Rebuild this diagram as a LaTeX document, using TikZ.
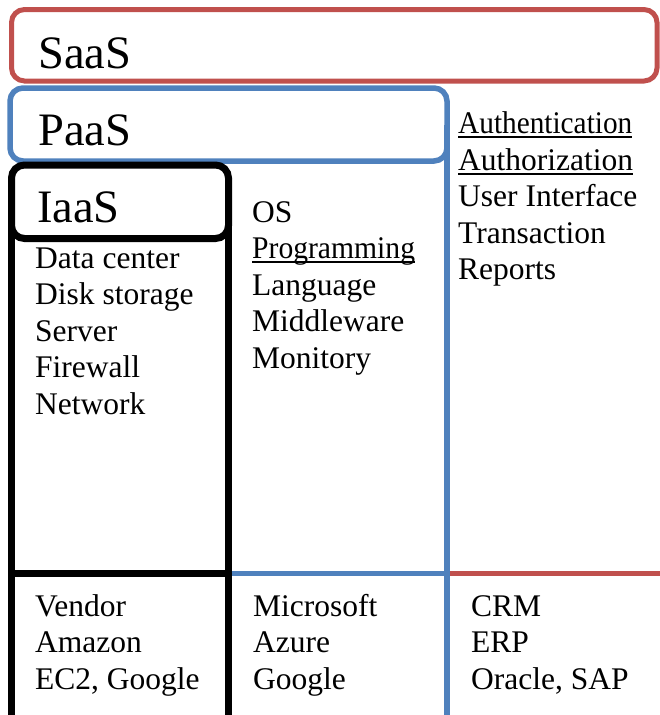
\documentclass[tikz,border=0pt]{standalone}
\usepackage{fontspec}
\setmainfont{Liberation Serif}

\definecolor{saasred}{HTML}{C0504D}
\definecolor{paasblue}{HTML}{4F81BD}

% underlined word, optionally squeezed to the reference width
\newcommand\ulword[2][1]{\setbox0\hbox{\scalebox{#1}[1]{#2}}%
  \rlap{\rule[-4.5pt]{\wd0}{1.8pt}}\box0}

\tikzset{
  layerbox/.style={draw, rectangle, rounded corners=13pt, inner sep=0pt,
    outer sep=0pt, anchor=north west},
  layername/.style={anchor=base west, inner sep=0pt,
    font=\fontsize{46.5}{56}\selectfont},
  itemlist/.style={anchor=base west, inner sep=0pt,
    font=\fontsize{31.5}{36.5}\selectfont}
}

\begin{document}
\begin{tikzpicture}[x=1pt, y=-1pt]
  \useasboundingbox (0,0) rectangle (660,715);
  \clip (0,0) rectangle (660,715);
  \coordinate (divider) at (0,573.5);
  \coordinate (bottom) at (0,725);
  \coordinate (rightend) at (670,573.5);

  \node[layerbox, saasred, line width=5pt, minimum width=645.5pt,
    minimum height=71.5pt] (saas) at (11.5,9.5) {};
  \node[layerbox, paasblue, line width=5.5pt, minimum width=437pt,
    minimum height=73pt] (paas) at (10,88) {};
  \node[layerbox, black, line width=7pt, minimum width=217pt,
    minimum height=73.5pt] (iaas) at (11.5,165) {};

  \node[layername] (saaslabel) at (38,68) {SaaS};
  \node[layername] (paaslabel) at (38,145) {PaaS};
  \node[layername] (iaaslabel) at (37,222) {IaaS};

  % column outlines
  \draw[saasred, line width=5pt] (paas.east |- divider) -- (rightend);
  \draw[paasblue, line width=5.5pt] (paas.east) -- (paas.east |- bottom);
  \draw[paasblue, line width=5.5pt] (iaas.east |- divider) -- (paas.east |- divider);
  \draw[black, line width=7pt] (iaas.west) -- (iaas.west |- bottom);
  \draw[black, line width=7pt] (iaas.east) -- (iaas.east |- bottom);
  \draw[black, line width=7pt] (iaas.west |- divider) -- (iaas.east |- divider);

  \node[itemlist] (iaasitems) at (35,268) {\begin{tabular}[t]{@{}l@{}}
      Data center\\ Disk storage\\ Server\\ Firewall\\ Network
    \end{tabular}};
  \node[itemlist] (paasitems) at (252,222) {\begin{tabular}[t]{@{}l@{}}
      OS\\ \ulword[0.94]{Programming}\\ Language\\ Middleware\\ Monitory
    \end{tabular}};
  \node[itemlist] (saasitems) at (458,133.5) {\begin{tabular}[t]{@{}l@{}}
      \ulword[0.93]{Authentication}\\ \ulword{Authorization}\\ User Interface\\
      Transaction\\ Reports
    \end{tabular}};

  \node[itemlist] (iaasvendors) at (35,616) {\begin{tabular}[t]{@{}l@{}}
      Vendor\\ Amazon\\ EC2, Google
    \end{tabular}};
  \node[itemlist] (paasvendors) at (253,616) {\begin{tabular}[t]{@{}l@{}}
      Microsoft\\ Azure\\ Google
    \end{tabular}};
  \node[itemlist] (saasvendors) at (471,616) {\begin{tabular}[t]{@{}l@{}}
      CRM\\ ERP\\ Oracle, SAP
    \end{tabular}};
\end{tikzpicture}
\end{document}
